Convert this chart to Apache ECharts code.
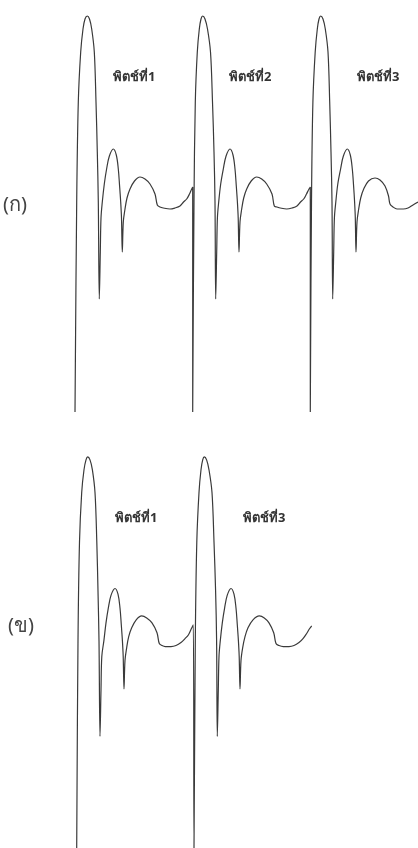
<!DOCTYPE html>
<html>
<head>
<meta charset="utf-8">
<script src="https://cdn.jsdelivr.net/npm/echarts@6/dist/echarts.min.js"></script>
<style>
  html, body { margin: 0; padding: 0; background: #fff; }
  #chart { width: 418px; height: 848px; }
</style>
</head>
<body>
<div id="chart"></div>
<script>
// waveform points [time, amplitude]
const pitchA1 = [
  [75, -100], [76.7, 5], [78.3, 55], [80.7, 80], [83, 91.5], [85, 96.5], [87.3, 98], [89.5, 96.5],
  [91.7, 91.5], [94.3, 80], [96, 55], [97.3, 30], [98.3, 5], [99.3, -43.5],
  [100.3, -20], [101, -3], [102.3, 5], [104.3, 14], [106.6, 21.5], [109.3, 27.9], [113.3, 31.5],
  [116.3, 28.5], [118.3, 21.5], [119.6, 13], [120.7, 5], [121.5, -3], [122.3, -20],
  [123.3, -5], [125, 1.5], [127, 7], [130, 11.5], [134.5, 15.5], [140, 17.5], [145, 16.5],
  [150, 14], [155, 9], [157.3, 3.5],
  [160, 2.5], [163.3, 2], [170, 1.5], [175, 2], [180, 3], [183.5, 5], [186.7, 6.5],
  [189.5, 9], [191.7, 11.5], [192.7, 12.5]
]
const pitchA2 = [
  [192.7, -100], [194, 5], [195.3, 55], [197.3, 80], [199.3, 91.5], [201, 96.5], [202.7, 98], [205, 96.5],
  [207.5, 91.5], [210.5, 80], [212.5, 55], [214, 30], [215, 5], [215.7, -43.5],
  [216.7, -20], [217.4, -3], [218.7, 5], [220.7, 14], [223.3, 21.5], [226, 27.9], [230, 31.5],
  [233, 28.5], [235, 21.5], [236.3, 13], [237.4, 5], [238.2, -3], [239, -20],
  [240, -5], [241.7, 1.5], [243.7, 7], [246.7, 11.5], [251.2, 15.5], [256.7, 17.5], [261.7, 16.5],
  [266.7, 14], [272, 9], [274.3, 3],
  [277, 2.5], [280.3, 2], [286.7, 1.5], [292, 2], [297, 3], [300.5, 5], [303.7, 6.5],
  [306.5, 9], [309, 11.5], [310.3, 12.5]
]
const pitchA3 = [
  [310.3, -100], [311.5, 5], [312.9, 55], [315.2, 80], [317.3, 91.5], [319, 96.5], [320.7, 98], [323, 96.5],
  [325.3, 91.5], [328, 80], [329.7, 55], [331, 30], [332, 5], [332.7, -43.5],
  [333.7, -20], [334.4, -3], [335.8, 5], [337.8, 14], [340.6, 21.5], [343.3, 27.9], [347.3, 31.5],
  [350.3, 28.5], [352.3, 21.5], [353.6, 13], [354.6, 5], [355.3, -3], [356, -20],
  [357, -5], [358.7, 1.5], [360.7, 7], [363.7, 11.5], [368.5, 15.5], [375, 17], [380, 16],
  [385, 13], [388.5, 8], [390, 4],
  [393, 2.5], [397, 1.5], [403.3, 1.5], [408, 2], [413, 3.5], [418, 5]
]
const pitchB1 = [
  [76.7, -100], [78, 5], [79.5, 55], [81.7, 80], [84, 91.5], [86, 96.5], [87.7, 98], [90, 96.5],
  [92.4, 91.5], [95, 80], [96.8, 55], [98, 30], [99, 5], [100, -43.5],
  [101, -20], [101.8, -3], [103.9, 5], [106, 14], [108.3, 21.5], [111, 27.9], [115, 31.4],
  [118, 28.5], [120, 21.5], [121.3, 13], [122.4, 5], [123.2, -3], [124, -19.5],
  [125, -5], [126.7, 1.5], [128.7, 7], [131.7, 11.5], [136.2, 15.5], [141.7, 17.5], [146.7, 16.5],
  [152, 14], [157, 9], [159.3, 3.5],
  [162, 2.5], [165.3, 2], [171, 2], [176, 2.5], [181, 4], [185, 6], [188.5, 8],
  [191.3, 11], [193.3, 13]
]
const pitchB3 = [
  [194, -100], [195.3, 5], [196.8, 55], [199, 80], [201, 91.5], [202.7, 96.5], [204.3, 98], [206.6, 96.5],
  [209, 91.5], [212, 80], [214, 55], [215.6, 30], [216.6, 5], [217.3, -43.5],
  [218.3, -20], [219, -3], [220.3, 5], [222.3, 14], [224.6, 21.5], [227.2, 27.9], [231, 31.4],
  [234, 28.5], [236, 21.5], [237.3, 13], [238.4, 5], [239.2, -3], [240, -19.5],
  [241, -5], [242.7, 1.5], [245, 7], [248, 11.5], [253, 15.5], [259.3, 17.5], [264.3, 16.5],
  [269, 14], [273.7, 9], [276, 3.5],
  [279, 2.5], [283.3, 2], [289, 2], [294, 2.5], [299, 4], [303, 6], [306.5, 8.5],
  [309.5, 11], [311.7, 12.5]
]
const labelsA = ['พิตช์ที่1', 'พิตช์ที่2', 'พิตช์ที่3']
const labelsB = ['พิตช์ที่1', 'พิตช์ที่3']
const panelNames = ['(ก)', '(ข)']

const lineColor = '#3a3a3a'
const thaiFont = '"Noto Sans", "DejaVu Sans", sans-serif'

function xAx(i) {
  return { type: 'value', gridIndex: i, min: 0, max: 418, show: false }
}
function yAx(i) {
  return { type: 'value', gridIndex: i, min: -100, max: 100, show: false }
}
function wave(i, data) {
  return {
    type: 'line', xAxisIndex: i, yAxisIndex: i, data: data,
    smooth: 0.35, showSymbol: false, symbol: 'none', silent: true,
    lineStyle: { color: lineColor, width: 1.2 }, animation: false
  }
}
function label(text, x, y) {
  return {
    type: 'text', left: x, top: y,
    style: { text: text, fill: '#333', font: 'bold 13px ' + thaiFont }
  }
}

const option = {
  backgroundColor: '#fff',
  animation: false,
  grid: [
    { left: 0, top: 12, width: 418, height: 400 },
    { left: 0, top: 453, width: 418, height: 400 }
  ],
  xAxis: [xAx(0), xAx(1)],
  yAxis: [yAx(0), yAx(1)],
  series: [
    wave(0, pitchA1.concat(pitchA2, pitchA3)),
    wave(1, pitchB1.concat(pitchB3))
  ],
  graphic: [
    label(labelsA[0], 113, 71),
    label(labelsA[1], 229, 71),
    label(labelsA[2], 357, 71),
    label(labelsB[0], 115, 512),
    label(labelsB[1], 243, 512),
    { type: 'text', left: 3, top: 195, style: { text: panelNames[0], fill: '#444', font: '20px ' + thaiFont } },
    { type: 'text', left: 8, top: 616, style: { text: panelNames[1], fill: '#444', font: '20px ' + thaiFont } }
  ]
}

let myChart = echarts.init(document.getElementById('chart'))
myChart.setOption(option)
</script>
</body>
</html>
